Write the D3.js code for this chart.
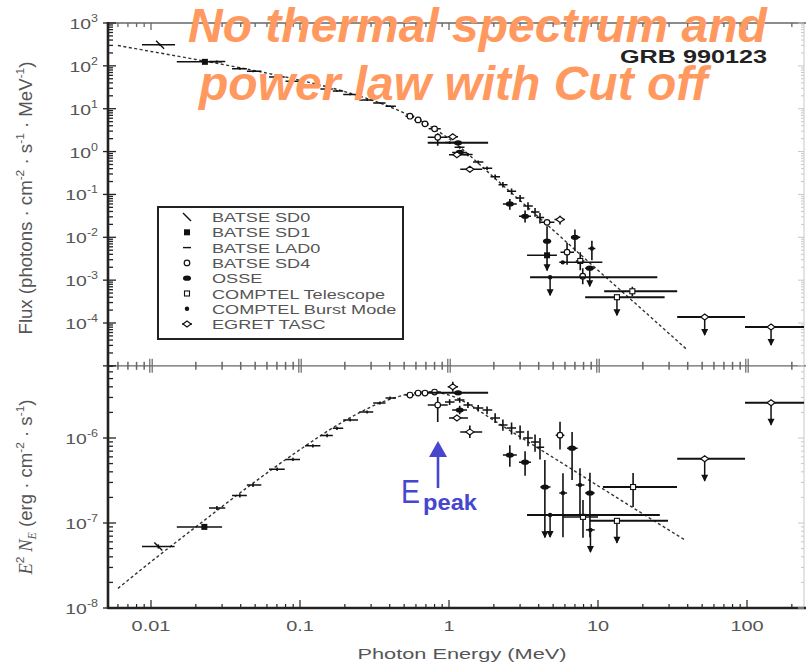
<!DOCTYPE html>
<html>
<head>
<meta charset="utf-8">
<script src="https://cdn.jsdelivr.net/npm/d3@7/dist/d3.min.js"></script>
<style>
html,body{margin:0;padding:0;background:#fff;}
svg{display:block;font-family:"Liberation Sans",Arial,Helvetica,sans-serif;}
</style>
</head>
<body>
<svg id="chart" width="806" height="664"></svg>
<script>
// ================= DATA =================
const xTickValues = [0.01, 0.1, 1, 10, 100];
const xTickLabels = ["0.01", "0.1", "1", "10", "100"];
const fluxTickValues = [1e3, 1e2, 1e1, 1e0, 1e-1, 1e-2, 1e-3, 1e-4];
const fluxTickExps = ["3", "2", "1", "0", "-1", "-2", "-3", "-4"];
const e2nTickValues = [1e-6, 1e-7, 1e-8];
const e2nTickExps = ["-6", "-7", "-8"];
const legendLabels = ["BATSE SD0", "BATSE SD1", "BATSE LAD0", "BATSE SD4", "OSSE",
  "COMPTEL Telescope", "COMPTEL Burst Mode", "EGRET TASC"];
const legendSymbols = ["sd0", "sd1", "lad", "sd4", "osse", "ctel", "cburst", "tasc"];

// dashed model curve
const fitE    = [0.006, 0.01, 0.02, 0.05, 0.1, 0.2, 0.4, 0.7, 1.0, 1.3, 2, 3, 5, 10, 20, 39];
const fitFlux = [298, 217, 141, 77, 46, 25, 11.1, 4.4, 2.0, 0.96, 0.25, 0.072, 0.0147, 0.0017, 2.0e-4, 2.5e-5];
const fitE2N  = [1.7e-8, 3.5e-8, 9.0e-8, 3.07e-7, 7.3e-7, 1.6e-6, 2.85e-6, 3.49e-6, 3.2e-6, 2.6e-6, 1.61e-6, 1.03e-6, 5.9e-7, 2.74e-7, 1.28e-7, 6.2e-8];

// rows: [E, Elo, Ehi, value, valueLo, valueHi, limitFlag]
// ---- top panel: photon flux ----
const sd0Flux = [[0.0115, 0.0087, 0.0145, 310, 290, 330, 0]];
const sd1Flux = [[0.023, 0.0149, 0.030, 124, 117, 131, 0], [4.55, 3.34, 5.3, 0.0038, 0.0033, 0.0043, 0]];
const ladFlux = [
  [0.0277, 0.0245, 0.0315, 126, 119, 133, 0], [0.0395, 0.035, 0.044, 86, 81, 91, 0],
  [0.0484, 0.044, 0.055, 75, 71, 79, 0], [0.0702, 0.062, 0.079, 55, 52, 58, 0],
  [0.0897, 0.08, 0.10, 44, 42, 46, 0], [0.122, 0.108, 0.137, 34, 32.5, 35.5, 0],
  [0.152, 0.137, 0.166, 29, 27.7, 30.3, 0], [0.177, 0.166, 0.195, 26, 24.8, 27.2, 0],
  [0.217, 0.195, 0.245, 21.6, 20.6, 22.6, 0], [0.282, 0.25, 0.31, 15.9, 15.2, 16.6, 0],
  [0.344, 0.31, 0.375, 13.6, 13, 14.2, 0], [0.402, 0.375, 0.44, 11.4, 10.9, 11.9, 0],
  [1.01, 0.94, 1.09, 1.62, 1.5, 1.75, 0], [1.18, 1.09, 1.27, 1.26, 1.17, 1.35, 0],
  [1.34, 1.25, 1.44, 0.85, 0.78, 0.92, 0], [1.57, 1.45, 1.70, 0.57, 0.52, 0.62, 0],
  [1.80, 1.68, 1.95, 0.41, 0.37, 0.45, 0], [2.04, 1.9, 2.2, 0.258, 0.225, 0.29, 0],
  [2.3, 2.15, 2.47, 0.168, 0.145, 0.195, 0], [2.63, 2.45, 2.82, 0.118, 0.1, 0.137, 0],
  [3.0, 2.8, 3.2, 0.082, 0.067, 0.097, 0], [3.39, 3.15, 3.65, 0.054, 0.043, 0.066, 0],
  [3.78, 3.55, 4.05, 0.039, 0.030, 0.048, 0], [4.08, 3.85, 4.35, 0.029, 0.021, 0.037, 0]
];
const sd4Flux = [
  [0.547, 0.51, 0.585, 6.68, 6.45, 6.9, 0], [0.62, 0.585, 0.655, 5.49, 5.3, 5.7, 0],
  [0.69, 0.655, 0.73, 4.43, 4.28, 4.58, 0], [0.80, 0.73, 0.88, 3.39, 3.27, 3.52, 0],
  [0.84, 0.72, 0.98, 2.16, 1.36, 2.68, 0], [4.55, 4.1, 5.1, 0.0223, 0.019, 0.026, 0],
  [6.2, 5.6, 6.9, 0.0045, 0.0023, 0.0075, 0], [7.9, 7.5, 8.3, 0.00124, 0.0008, 0.0019, 0]
];
const osseFlux = [
  [1.15, 0.72, 1.83, 1.60, 1.5, 1.7, 0], [1.18, 1.05, 1.32, 0.955, 0.85, 1.07, 0],
  [2.56, 2.3, 2.85, 0.06, 0.044, 0.078, 0], [3.24, 2.95, 3.55, 0.031, 0.022, 0.042, 0],
  [4.55, 4.3, 4.85, 0.0081, 0.0017, 0.018, 2], [7.0, 6.6, 7.6, 0.010, 0.0047, 0.0152, 0],
  [8.8, 8.2, 9.5, 0.0019, 0.0019, 0.0019, 1]
];
const ctelFlux = [
  [7.6, 7.1, 8.1, 0.0028, 0.0017, 0.0045, 0], [17, 11, 34, 5.5e-4, 4.2e-4, 7.0e-4, 0],
  [13.4, 8.2, 28, 4.0e-4, 4.0e-4, 4.0e-4, 1]
];
const cburstFlux = [
  [4.77, 3.5, 25, 1.17e-3, 1.17e-3, 1.17e-3, 1], [5.8, 5.5, 10.7, 0.0026, 0.0026, 0.0026, 0],
  [9.1, 8.6, 9.6, 0.0055, 0.0029, 0.0083, 0]
];
const tascFlux = [
  [1.06, 0.98, 1.15, 2.22, 1.95, 2.55, 0], [1.13, 1.0, 1.34, 0.84, 0.78, 0.9, 0],
  [1.38, 1.19, 1.67, 0.387, 0.33, 0.45, 0], [5.56, 5.1, 6.0, 0.026, 0.02, 0.032, 0],
  [52, 34, 97, 1.38e-4, 1.38e-4, 1.38e-4, 1], [145, 97, 260, 8.1e-5, 8.1e-5, 8.1e-5, 1]
];

// ---- bottom panel: E^2 N_E ----
const sd0E2N = [[0.0112, 0.0087, 0.0144, 5.3e-8, 5.0e-8, 5.6e-8, 0]];
const sd1E2N = [[0.0228, 0.0149, 0.030, 9.0e-8, 8.5e-8, 9.5e-8, 0]];
const ladE2N = [
  [0.0277, 0.0245, 0.0315, 1.5e-7, 1.42e-7, 1.58e-7, 0], [0.0395, 0.035, 0.044, 2.1e-7, 1.99e-7, 2.21e-7, 0],
  [0.0484, 0.044, 0.055, 2.8e-7, 2.66e-7, 2.94e-7, 0], [0.0702, 0.062, 0.079, 4.3e-7, 4.1e-7, 4.5e-7, 0],
  [0.0897, 0.08, 0.10, 5.6e-7, 5.35e-7, 5.85e-7, 0], [0.122, 0.108, 0.137, 8.1e-7, 7.75e-7, 8.45e-7, 0],
  [0.152, 0.137, 0.166, 1.07e-6, 1.02e-6, 1.12e-6, 0], [0.177, 0.166, 0.195, 1.3e-6, 1.24e-6, 1.36e-6, 0],
  [0.217, 0.195, 0.245, 1.63e-6, 1.56e-6, 1.7e-6, 0], [0.282, 0.25, 0.31, 2.02e-6, 1.94e-6, 2.1e-6, 0],
  [0.344, 0.31, 0.375, 2.58e-6, 2.48e-6, 2.68e-6, 0], [0.402, 0.375, 0.44, 2.96e-6, 2.85e-6, 3.07e-6, 0],
  [1.01, 0.94, 1.09, 2.65e-6, 2.45e-6, 2.85e-6, 0], [1.18, 1.09, 1.27, 2.8e-6, 2.6e-6, 3.0e-6, 0],
  [1.34, 1.25, 1.44, 2.45e-6, 2.25e-6, 2.65e-6, 0], [1.57, 1.45, 1.70, 2.25e-6, 2.05e-6, 2.45e-6, 0],
  [1.80, 1.68, 1.95, 2.13e-6, 1.9e-6, 2.35e-6, 0], [2.04, 1.9, 2.2, 1.72e-6, 1.5e-6, 1.95e-6, 0],
  [2.3, 2.15, 2.47, 1.42e-6, 1.22e-6, 1.65e-6, 0], [2.63, 2.45, 2.82, 1.31e-6, 1.1e-6, 1.52e-6, 0],
  [3.0, 2.8, 3.2, 1.18e-6, 9.6e-7, 1.4e-6, 0], [3.39, 3.15, 3.65, 1.0e-6, 8.0e-7, 1.22e-6, 0],
  [3.78, 3.55, 4.05, 8.97e-7, 6.9e-7, 1.1e-6, 0], [4.08, 3.85, 4.35, 7.8e-7, 5.6e-7, 1.0e-6, 0]
];
const sd4E2N = [
  [0.547, 0.51, 0.585, 3.2e-6, 3.1e-6, 3.3e-6, 0], [0.62, 0.585, 0.655, 3.38e-6, 3.28e-6, 3.48e-6, 0],
  [0.69, 0.655, 0.73, 3.38e-6, 3.28e-6, 3.48e-6, 0], [0.80, 0.73, 0.88, 3.47e-6, 3.35e-6, 3.6e-6, 0],
  [0.84, 0.72, 0.98, 2.44e-6, 1.54e-6, 3.03e-6, 0], [5.56, 5.2, 5.95, 1.08e-6, 7.3e-7, 1.55e-6, 0]
];
const osseE2N = [
  [1.15, 0.72, 1.83, 3.4e-6, 3.2e-6, 3.6e-6, 0], [1.18, 1.05, 1.32, 2.13e-6, 1.9e-6, 2.4e-6, 0],
  [2.56, 2.3, 2.85, 6.3e-7, 4.6e-7, 8.2e-7, 0], [3.24, 2.95, 3.55, 5.2e-7, 3.6e-7, 7.0e-7, 0],
  [6.7, 6.2, 7.3, 7.6e-7, 3.2e-7, 1.18e-6, 0], [4.4, 4.1, 4.8, 2.65e-7, 6.8e-8, 5.5e-7, 2],
  [8.83, 8.2, 9.5, 2.25e-7, 6.8e-8, 3.9e-7, 0]
];
const ctelE2N = [
  [7.93, 5.8, 10, 1.18e-7, 6.7e-8, 1.87e-7, 0], [17.2, 10.8, 33.9, 2.65e-7, 1.54e-7, 3.87e-7, 0],
  [13.4, 8.8, 29.5, 1.06e-7, 1.06e-7, 1.06e-7, 1]
];
const cburstE2N = [
  [4.77, 3.34, 26, 1.24e-7, 1.24e-7, 1.24e-7, 1], [5.82, 5.5, 6.2, 2.25e-7, 6.8e-8, 3.85e-7, 0],
  [7.57, 7.1, 8.1, 2.8e-7, 1.2e-7, 4.4e-7, 0], [8.9, 8.3, 9.5, 8.3e-8, 8.3e-8, 8.3e-8, 1]
];
const tascE2N = [
  [1.06, 0.98, 1.15, 4.0e-6, 3.5e-6, 4.6e-6, 0], [1.13, 1.0, 1.34, 1.72e-6, 1.6e-6, 1.85e-6, 0],
  [1.38, 1.19, 1.67, 1.18e-6, 1.0e-6, 1.4e-6, 0],
  [52, 34, 97, 5.7e-7, 5.7e-7, 5.7e-7, 1], [145, 97, 260, 2.6e-6, 2.6e-6, 2.6e-6, 1]
];

// ================= LAYOUT =================
const svg = d3.select("#chart");
const plotL = 108, plotR = 804, plotT = 23, plotB = 608;
const x = d3.scaleLog().domain([0.01, 100]).range([151, 747]);
const yT = d3.scaleLog().domain([1e-4, 1e3]).range([323, 23]);
const yB = d3.scaleLog().domain([1e-8, 1e-6]).range([608, 438]);
const midY = yT(1e-5);
const axisGray = "#666", axisDark = "#222", labelGray = "#555";

const xAll = x.copy().domain([x.invert(plotL), x.invert(plotR)]);
const xTicksAll = xAll.ticks();
const isDecade = v => Math.abs(Math.log10(v) - Math.round(Math.log10(v))) < 1e-6;

const defs = svg.append("defs");
defs.append("clipPath").attr("id", "clipTop").append("rect")
  .attr("x", plotL).attr("y", plotT).attr("width", plotR - plotL).attr("height", midY - plotT);
defs.append("clipPath").attr("id", "clipBot").append("rect")
  .attr("x", plotL).attr("y", midY).attr("width", plotR - plotL).attr("height", plotB - midY);

// ---------- axes lines ----------
const axes = svg.append("g");
// right (faint)
axes.append("line").attr("x1", plotR).attr("x2", plotR).attr("y1", plotT).attr("y2", plotB)
  .attr("stroke", "#c8c8c8").attr("stroke-width", 1);
// top
axes.append("line").attr("x1", plotL).attr("x2", 806).attr("y1", plotT).attr("y2", plotT)
  .attr("stroke", axisGray).attr("stroke-width", 1.6);
// middle
axes.append("line").attr("x1", plotL).attr("x2", 806).attr("y1", midY).attr("y2", midY)
  .attr("stroke", axisGray).attr("stroke-width", 1.4);
// bottom
axes.append("line").attr("x1", plotL).attr("x2", 806).attr("y1", plotB).attr("y2", plotB)
  .attr("stroke", axisDark).attr("stroke-width", 2.4);
// left
axes.append("line").attr("x1", plotL).attr("x2", plotL).attr("y1", plotT - 1).attr("y2", plotB + 1)
  .attr("stroke", axisDark).attr("stroke-width", 2.6);

// x ticks
xTicksAll.forEach(v => {
  const px = x(v), maj = isDecade(v);
  // top axis ticks (down)
  axes.append("line").attr("x1", px).attr("x2", px).attr("y1", plotT).attr("y2", plotT + (maj ? 7 : 4))
    .attr("stroke", axisGray).attr("stroke-width", 1.3);
  // middle axis ticks (both sides)
  if (maj) {
    [-1.2, 1.2].forEach(o => axes.append("line").attr("x1", px + o).attr("x2", px + o)
      .attr("y1", midY - 7).attr("y2", midY + 7).attr("stroke", axisGray).attr("stroke-width", 1.2));
  } else {
    axes.append("line").attr("x1", px).attr("x2", px).attr("y1", midY - 4).attr("y2", midY + 4)
      .attr("stroke", axisGray).attr("stroke-width", 1.5);
  }
  // bottom axis ticks (up)
  axes.append("line").attr("x1", px).attr("x2", px).attr("y1", plotB).attr("y2", plotB - (maj ? 8 : 4))
    .attr("stroke", axisDark).attr("stroke-width", 1.2);
});

// y ticks (top panel)
const yTAll = yT.copy().domain([1e-5, 1e3]);
yTAll.ticks().forEach(v => {
  const py = yT(v), maj = isDecade(v);
  axes.append("line").attr("x1", maj ? plotL - 5 : plotL).attr("x2", plotL + (maj ? 8 : 5))
    .attr("y1", py).attr("y2", py).attr("stroke", axisDark).attr("stroke-width", 1.3);
  axes.append("line").attr("x1", plotR).attr("x2", plotR - (maj ? 6 : 3))
    .attr("y1", py).attr("y2", py).attr("stroke", "#c8c8c8").attr("stroke-width", 1);
});
// y ticks (bottom panel)
const yBAll = yB.copy().domain([1e-8, yB.invert(midY)]);
yBAll.ticks().forEach(v => {
  const py = yB(v), maj = isDecade(v);
  axes.append("line").attr("x1", maj ? plotL - 5 : plotL).attr("x2", plotL + (maj ? 8 : 5))
    .attr("y1", py).attr("y2", py).attr("stroke", axisDark).attr("stroke-width", 1.3);
  axes.append("line").attr("x1", plotR).attr("x2", plotR - (maj ? 6 : 3))
    .attr("y1", py).attr("y2", py).attr("stroke", "#c8c8c8").attr("stroke-width", 1);
});

// ---------- tick labels ----------
const SX = 1.33; // horizontal stretch of the original figure text
xTickValues.forEach((v, i) => {
  svg.append("text").attr("transform", `translate(${x(v)},631) scale(${SX},1)`)
    .attr("text-anchor", "middle").attr("font-size", 15).attr("fill", labelGray)
    .text(xTickLabels[i]);
});
function powLabel(py, exp) {
  const t = svg.append("text").attr("transform", `translate(98,${py + 6}) scale(1.25,1)`)
    .attr("text-anchor", "end").attr("font-size", 15.5).attr("fill", labelGray);
  t.append("tspan").text("10");
  t.append("tspan").attr("font-size", 10).attr("dy", -7).text(exp);
}
fluxTickValues.forEach((v, i) => powLabel(yT(v), fluxTickExps[i]));
e2nTickValues.forEach((v, i) => powLabel(yB(v), e2nTickExps[i]));

// axis titles
svg.append("text").attr("x", 462).attr("y", 659).attr("text-anchor", "middle")
  .attr("font-size", 15).attr("fill", labelGray).attr("textLength", 209).attr("lengthAdjust", "spacingAndGlyphs")
  .text("Photon Energy (MeV)");

const yt1 = svg.append("text").attr("transform", `translate(32,198) scale(1.3,1) rotate(-90)`)
  .attr("text-anchor", "middle").attr("font-size", 14).attr("fill", labelGray)
  .attr("textLength", 273).attr("lengthAdjust", "spacingAndGlyphs");
yt1.append("tspan").text("Flux  (photons · cm");
yt1.append("tspan").attr("font-size", 9).attr("dy", -6).text("-2");
yt1.append("tspan").attr("dy", 6).text(" · s");
yt1.append("tspan").attr("font-size", 9).attr("dy", -6).text("-1");
yt1.append("tspan").attr("dy", 6).text(" · MeV");
yt1.append("tspan").attr("font-size", 9).attr("dy", -6).text("-1");
yt1.append("tspan").attr("dy", 6).text(")");

const yt2 = svg.append("text").attr("transform", `translate(32,487) scale(1.3,1) rotate(-90)`)
  .attr("text-anchor", "middle").attr("font-size", 14).attr("fill", labelGray)
  .attr("textLength", 175).attr("lengthAdjust", "spacingAndGlyphs");
yt2.append("tspan").attr("font-family", "Liberation Serif, Times New Roman, serif").attr("font-style", "italic").text("E");
yt2.append("tspan").attr("font-size", 9).attr("dy", -6).text("2");
yt2.append("tspan").attr("dy", 6).attr("font-family", "Liberation Serif, Times New Roman, serif").attr("font-style", "italic").text(" N");
yt2.append("tspan").attr("font-size", 9).attr("dy", 3).attr("font-family", "Liberation Serif, serif").attr("font-style", "italic").text("E");
yt2.append("tspan").attr("dy", -3).text("  (erg · cm");
yt2.append("tspan").attr("font-size", 9).attr("dy", -6).text("-2");
yt2.append("tspan").attr("dy", 6).text(" · s");
yt2.append("tspan").attr("font-size", 9).attr("dy", -6).text("-1");
yt2.append("tspan").attr("dy", 6).text(")");

// ---------- model curves ----------
const fitTopPts = fitE.map((e, i) => [e, fitFlux[i]]);
const fitBotPts = fitE.map((e, i) => [e, fitE2N[i]]);
svg.append("path").datum(fitTopPts)
  .attr("d", d3.line().x(d => x(d[0])).y(d => yT(d[1])).curve(d3.curveMonotoneX))
  .attr("fill", "none").attr("stroke", "#333").attr("stroke-width", 1.4).attr("stroke-dasharray", "3,2.5");
svg.append("path").datum(fitBotPts)
  .attr("d", d3.line().x(d => x(d[0])).y(d => yB(d[1])).curve(d3.curveMonotoneX))
  .attr("fill", "none").attr("stroke", "#333").attr("stroke-width", 1.4).attr("stroke-dasharray", "3,2.5");

// ---------- markers ----------
function marker(g, sym, cx, cy) {
  const k = "#111";
  switch (sym) {
    case "sd0": g.append("line").attr("x1", cx - 4).attr("y1", cy - 4).attr("x2", cx + 4).attr("y2", cy + 4)
      .attr("stroke", k).attr("stroke-width", 1.4); break;
    case "sd1": g.append("rect").attr("x", cx - 3).attr("y", cy - 3).attr("width", 6).attr("height", 6).attr("fill", k); break;
    case "lad": break;
    case "sd4": g.append("circle").attr("cx", cx).attr("cy", cy).attr("r", 2.8)
      .attr("fill", "#fff").attr("stroke", k).attr("stroke-width", 1.2); break;
    case "osse": g.append("ellipse").attr("cx", cx).attr("cy", cy).attr("rx", 4).attr("ry", 2.6).attr("fill", k); break;
    case "ctel": g.append("rect").attr("x", cx - 2.5).attr("y", cy - 2.5).attr("width", 5).attr("height", 5)
      .attr("fill", "#fff").attr("stroke", k).attr("stroke-width", 1.1); break;
    case "cburst": g.append("circle").attr("cx", cx).attr("cy", cy).attr("r", 2.2).attr("fill", k); break;
    case "tasc": g.append("path").attr("d", `M${cx - 4},${cy}L${cx},${cy - 3}L${cx + 4},${cy}L${cx},${cy + 3}Z`)
      .attr("fill", "#fff").attr("stroke", k).attr("stroke-width", 1.2); break;
  }
}
function drawSet(g, rows, sym, ys, arrowLen) {
  rows.forEach(r => {
    const [E, El, Eh, V, Vl, Vh, lim] = r;
    const cx = x(E), cy = ys(V);
    const heavy = (Eh / El) > 2.5;
    g.append("line").attr("x1", x(El)).attr("x2", x(Eh)).attr("y1", cy).attr("y2", cy)
      .attr("stroke", "#111").attr("stroke-width", heavy ? 2 : 1.5);
    if (Vl !== Vh) {
      g.append("line").attr("x1", cx).attr("x2", cx).attr("y1", ys(Vl)).attr("y2", ys(Vh))
        .attr("stroke", "#111").attr("stroke-width", 1.6);
    }
    if (lim) {
      const y0 = lim === 2 ? ys(Vl) - 6 : cy;
      const y1 = lim === 2 ? ys(Vl) : cy + arrowLen;
      g.append("line").attr("x1", cx).attr("x2", cx).attr("y1", y0).attr("y2", y1)
        .attr("stroke", "#111").attr("stroke-width", 1.5);
      g.append("path").attr("d", `M${cx - 3.5},${y1 - 6}L${cx + 3.5},${y1 - 6}L${cx},${y1 + 1}Z`).attr("fill", "#111");
    }
    marker(g, sym, cx, cy);
  });
}
const gTop = svg.append("g").attr("clip-path", "url(#clipTop)");
const gBot = svg.append("g").attr("clip-path", "url(#clipBot)");
[[sd0Flux, "sd0"], [sd1Flux, "sd1"], [ladFlux, "lad"], [sd4Flux, "sd4"], [osseFlux, "osse"],
 [ctelFlux, "ctel"], [cburstFlux, "cburst"], [tascFlux, "tasc"]].forEach(([rows, s]) => drawSet(gTop, rows, s, yT, 18));
[[sd0E2N, "sd0"], [sd1E2N, "sd1"], [ladE2N, "lad"], [sd4E2N, "sd4"], [osseE2N, "osse"],
 [ctelE2N, "ctel"], [cburstE2N, "cburst"], [tascE2N, "tasc"]].forEach(([rows, s]) => drawSet(gBot, rows, s, yB, 22));

// ---------- legend ----------
const lg = svg.append("g");
lg.append("rect").attr("x", 158).attr("y", 207).attr("width", 245).attr("height", 132)
  .attr("fill", "#fff").attr("stroke", axisDark).attr("stroke-width", 2);
legendLabels.forEach((lab, i) => {
  const cy = 217 + i * 15.3;
  const s = legendSymbols[i];
  if (s === "lad") lg.append("line").attr("x1", 183).attr("x2", 191).attr("y1", cy).attr("y2", cy).attr("stroke", "#111").attr("stroke-width", 1.4);
  else if (s === "tasc") {
    lg.append("line").attr("x1", 182).attr("x2", 192).attr("y1", cy).attr("y2", cy).attr("stroke", "#111").attr("stroke-width", 1.4);
    marker(lg, s, 187, cy);
  } else marker(lg, s === "sd1" ? "sd1" : s, 187, cy);
  lg.append("text").attr("transform", `translate(212,${cy + 5}) scale(1.45,1)`)
    .attr("font-size", 12.5).attr("fill", labelGray).text(lab);
});

// GRB label
svg.append("text").attr("x", 620).attr("y", 63).attr("font-size", 18.5).attr("font-weight", "bold")
  .attr("fill", "#222").attr("textLength", 147).attr("lengthAdjust", "spacingAndGlyphs").text("GRB 990123");

// ---------- E_peak annotation ----------
const blue = "#4646CF";
svg.append("line").attr("x1", 438).attr("x2", 438).attr("y1", 488).attr("y2", 452)
  .attr("stroke", blue).attr("stroke-width", 2.6);
svg.append("path").attr("d", "M438,441L429,457L447,457Z").attr("fill", blue);
svg.append("text").attr("x", 401).attr("y", 503).attr("font-size", 34).attr("fill", blue)
  .attr("textLength", 19).attr("lengthAdjust", "spacingAndGlyphs").text("E");
svg.append("text").attr("x", 423).attr("y", 510).attr("font-size", 22).attr("font-weight", "bold").attr("fill", blue)
  .attr("textLength", 54).attr("lengthAdjust", "spacingAndGlyphs").text("peak");

// ---------- overlay title ----------
const orange = "#FF9960";
svg.append("text").attr("x", 188).attr("y", 42).attr("font-size", 48).attr("font-weight", "bold")
  .attr("font-style", "italic").attr("fill", orange).text("No thermal spectrum and");
svg.append("text").attr("x", 199).attr("y", 100).attr("font-size", 48).attr("font-weight", "bold")
  .attr("font-style", "italic").attr("fill", orange).text("power law with Cut off");
</script>
</body>
</html>
